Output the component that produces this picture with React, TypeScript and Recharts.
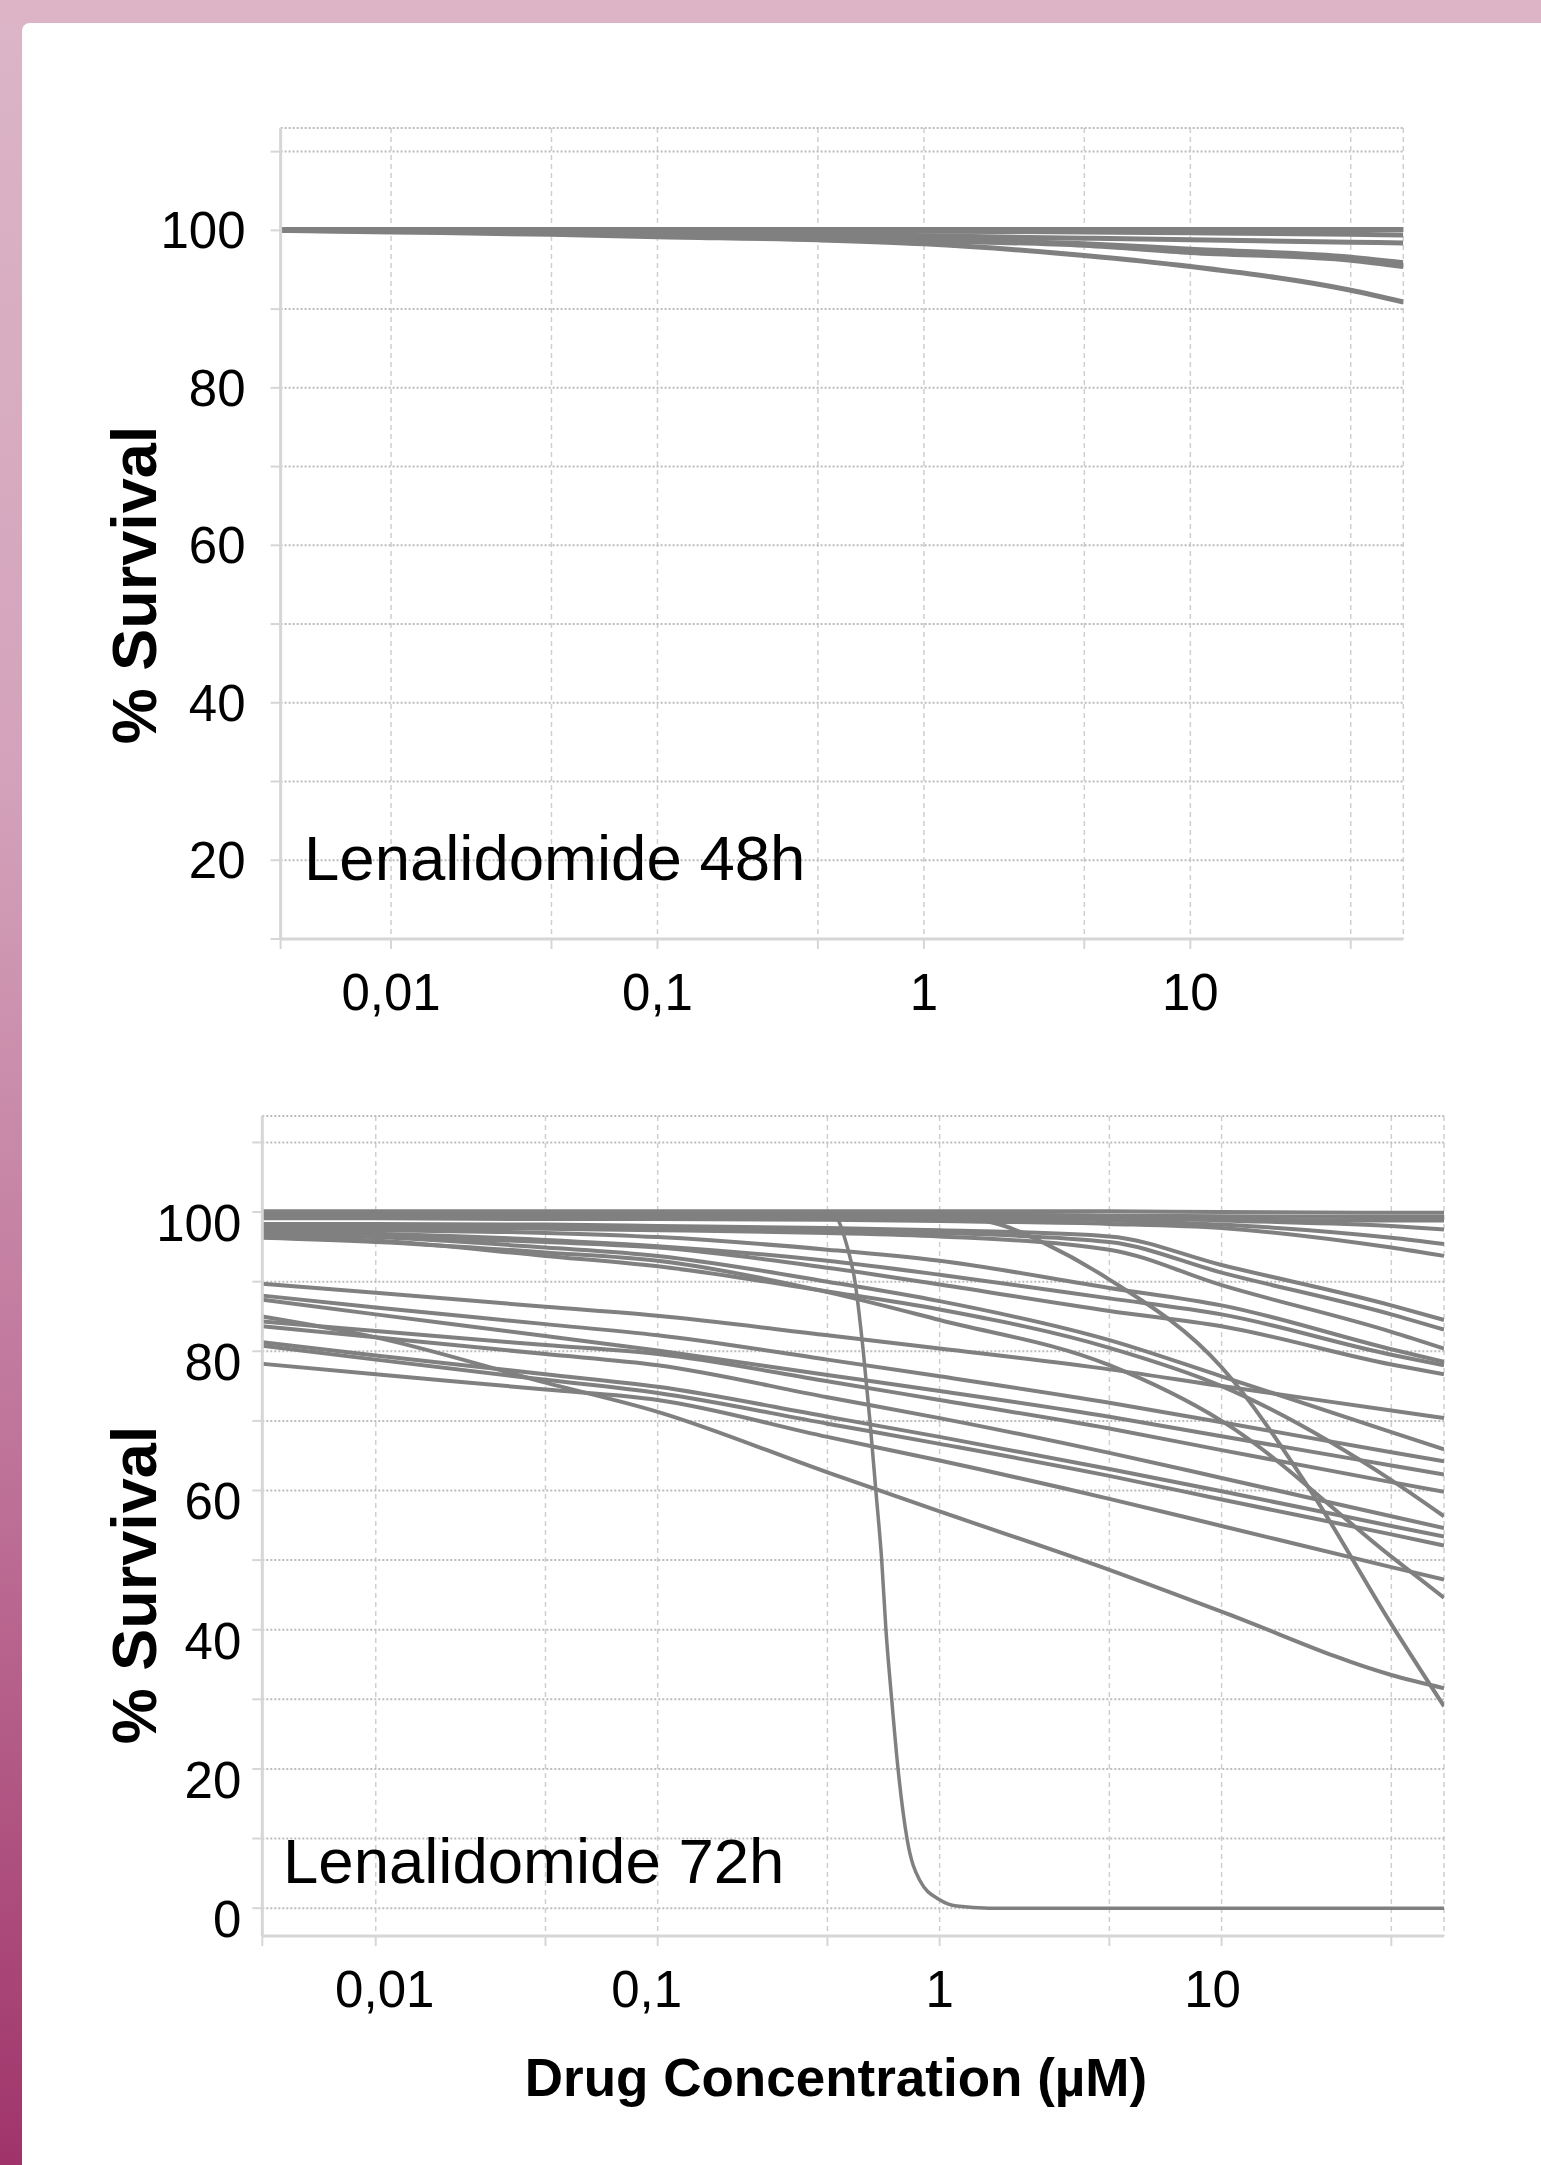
import React from 'react';
import { LineChart, Line, XAxis, YAxis, CartesianGrid } from 'recharts';

// ---------- 48h panel data ----------
const CONC_48 = [0.00385, 0.01, 0.04, 0.1, 0.4, 1, 4, 10, 40, 63];
const SURV_48_1 = [100.1, 100.1, 100.1, 100.1, 100.1, 100.1, 100.1, 100.1, 100.1, 100.1];
const SURV_48_2 = [100, 100, 100, 100, 100, 99.9, 99.8, 99.7, 99.5, 99.4];
const SURV_48_3 = [100, 100, 99.9, 99.8, 99.6, 99.3, 99.0, 98.8, 98.5, 98.4];
const SURV_48_4 = [100, 100, 99.9, 99.7, 99.3, 98.9, 98.3, 97.6, 96.6, 95.9];
const SURV_48_5 = [100, 99.9, 99.7, 99.5, 99.1, 98.7, 98.1, 97.2, 96.2, 95.4];
const SURV_48_6 = [100, 99.8, 99.5, 99.2, 98.8, 98.3, 96.8, 95.4, 92.4, 90.9];

// ---------- 72h panel data ----------
const CONC_72 = [0.00396, 0.01, 0.04, 0.1, 0.4, 1, 4, 10, 40, 61.5];
// near-100% curves
const SURV_72_B1 = [100.1, 100.1, 100.1, 100.1, 100.1, 100.1, 100.1, 100.0, 99.9, 99.9];
const SURV_72_B2 = [99.7, 99.7, 99.7, 99.7, 99.6, 99.6, 99.5, 99.4, 99.3, 99.3];
const SURV_72_B3 = [99.3, 99.3, 99.3, 99.2, 99.2, 99.1, 99.0, 98.9, 98.8, 98.8];
const SURV_72_B4 = [99.9, 99.9, 99.9, 99.9, 99.8, 99.7, 99.4, 98.8, 98.0, 97.5];
const SURV_72_B5 = [99.6, 99.6, 99.6, 99.5, 99.4, 99.2, 98.8, 98.2, 96.3, 95.4];
const SURV_72_B6 = [99.1, 99.1, 99.0, 99.0, 98.9, 98.7, 98.3, 97.7, 94.9, 93.7];
// sigmoid curves starting near 97-98 %
const SURV_72_S1 = [98.3, 98.3, 98.2, 98.0, 97.7, 97.4, 96.5, 92.4, 86.6, 84.5];
const SURV_72_S2 = [98.0, 98.0, 97.9, 97.7, 97.3, 97.0, 95.7, 91.3, 85.3, 83.1];
const SURV_72_S3 = [97.8, 97.8, 97.6, 97.4, 97.0, 96.5, 94.6, 89.5, 82.8, 80.4];
const SURV_72_S4 = [97.5, 97.4, 97.0, 96.4, 94.6, 93.0, 89.1, 86.6, 80.3, 78.5];
const SURV_72_S5 = [97.2, 96.9, 96.0, 95.1, 93.0, 91.0, 87.6, 85.3, 79.5, 78.0];
const SURV_72_S6 = [97.0, 96.6, 95.7, 94.9, 92.0, 89.6, 85.8, 83.6, 78.1, 76.7];
const SURV_72_S7 = [96.8, 96.4, 94.9, 93.7, 90.0, 87.2, 81.6, 76.4, 68.4, 65.9];
const SURV_72_S8 = [96.5, 95.9, 93.7, 92.2, 88.6, 86.0, 80.5, 75.0, 61.5, 56.3];
const SURV_72_S9 = [96.3, 95.7, 94.2, 93.0, 88.5, 84.5, 78.0, 70.0, 50.5, 44.6];
// shallow curves starting at 78-90 %
const SURV_72_L1 = [89.7, 88.4, 86.4, 85.1, 82.3, 80.4, 77.4, 75.0, 71.5, 70.4];
const SURV_72_L2 = [88.0, 86.3, 83.9, 82.3, 78.8, 76.4, 72.6, 69.8, 65.5, 64.2];
const SURV_72_L3 = [87.4, 85.3, 82.2, 80.1, 76.6, 74.3, 70.6, 67.8, 63.6, 62.3];
const SURV_72_L4 = [85.0, 82.0, 75.5, 71.3, 62.6, 57.0, 48.6, 42.6, 33.5, 31.6];
const SURV_72_L5 = [84.3, 82.9, 80.9, 79.6, 75.7, 73.0, 68.9, 65.8, 61.2, 59.8];
const SURV_72_L6 = [83.6, 82.0, 79.6, 78.0, 73.4, 70.4, 65.4, 61.8, 56.3, 54.6];
const SURV_72_L7 = [81.3, 79.4, 76.7, 74.9, 70.6, 67.7, 63.1, 59.9, 54.9, 53.4];
const SURV_72_L8 = [80.8, 78.8, 75.9, 74.0, 69.6, 66.7, 62.1, 58.7, 53.7, 52.1];
const SURV_72_L9 = [78.2, 76.7, 74.5, 73.0, 67.7, 64.3, 58.8, 54.9, 49.0, 47.2];
// curve that breaks away from 100 % near 2 µM
const CONC_72_LATE = [0.00396, 0.4, 1, 1.7, 2.36, 4, 10, 20.9, 40, 61.5];
const SURV_72_LATE = [100, 100, 99.5, 98.0, 95.5, 90.3, 77.7, 59.7, 40.8, 29.0];
// very steep curve around 0.6 µM
const CONC_72_STEEP = [0.00396, 0.1, 0.3, 0.425, 0.468, 0.501, 0.536, 0.566, 0.594, 0.623, 0.645, 0.676, 0.712, 0.766, 0.85, 1.0, 1.15, 1.5, 61.5];
const SURV_72_STEEP = [99.8, 99.8, 99.7, 99.3, 95.3, 90, 80, 70, 60, 50, 40, 30, 20, 10, 4, 1.2, 0.3, 0, 0];

// ---------- axis ticks ----------
const X_TICKS_48 = [0.00385, 0.01, 0.04, 0.1, 0.4, 1, 4, 10, 40];
const X_TICKS_72 = [0.00396, 0.01, 0.04, 0.1, 0.4, 1, 4, 10, 40];
const X_LABELS: Record<string, string> = { '0.01': '0,01', '0.1': '0,1', '1': '1', '10': '10' };
const X_LABEL_SHIFT_72: Record<string, number> = { '0.01': 9, '0.1': -11, '1': 0, '10': -9 };
const Y_TICKS_48 = [10, 20, 30, 40, 50, 60, 70, 80, 90, 100, 110];
const Y_TICKS_72 = [0, 10, 20, 30, 40, 50, 60, 70, 80, 90, 100, 110];
const Y_LABELS = [0, 20, 40, 60, 80, 100];

const SERIES_48 = [SURV_48_1, SURV_48_2, SURV_48_3, SURV_48_4, SURV_48_5, SURV_48_6];
const SERIES_72 = [
  SURV_72_B1, SURV_72_B2, SURV_72_B3, SURV_72_B4, SURV_72_B5, SURV_72_B6,
  SURV_72_S1, SURV_72_S2, SURV_72_S3, SURV_72_S4, SURV_72_S5, SURV_72_S6, SURV_72_S7, SURV_72_S8, SURV_72_S9,
  SURV_72_L1, SURV_72_L2, SURV_72_L3, SURV_72_L4, SURV_72_L5, SURV_72_L6, SURV_72_L7, SURV_72_L8, SURV_72_L9,
];

const toPoints = (xs: number[], ys: number[]) => xs.map((x, i) => ({ x, y: ys[i] }));

const FONT = '"Liberation Sans", Arial, Helvetica, sans-serif';
const LINE = '#808080';
const AXIS = '#d6d6d6';

const makeXTick = (offset: number, shifts?: Record<string, number>) => (props: any) => {
  const { x, y, payload } = props;
  const key = String(payload.value);
  const label = X_LABELS[key];
  if (!label) return <g />;
  const dx = shifts ? shifts[key] || 0 : 0;
  return (
    <text x={x + dx} y={y + offset} textAnchor="middle" fontSize={51} fontFamily={FONT} fill="#000">
      {label}
    </text>
  );
};

const makeYTick = (dx: number, dy: number) => (props: any) => {
  const { x, y, payload } = props;
  if (!Y_LABELS.includes(payload.value)) return <g />;
  return (
    <text x={x + dx} y={y + dy} textAnchor="end" fontSize={51} fontFamily={FONT} fill="#000">
      {payload.value}
    </text>
  );
};

function Panel(props: {
  top: number; height: number; plotLeft: number; plotTop: number; plotRight: number; plotBottom: number;
  xDomain: [number, number]; yDomain: [number, number]; xTicks: number[]; yTicks: number[];
  series: { x: number; y: number }[][]; strokeWidths: number[]; yTickDx: number; yTickDy: number;
  xShifts?: Record<string, number>;
}) {
  const { top, height, plotLeft, plotTop, plotRight, plotBottom } = props;
  const xAxisH = 90;
  const margin = {
    top: plotTop - top,
    right: 1541 - plotRight,
    left: 0,
    bottom: top + height - plotBottom - xAxisH,
  };
  return (
    <div style={{ position: 'absolute', left: 0, top, width: 1541, height }}>
      <LineChart width={1541} height={height} margin={margin}>
        <CartesianGrid horizontal={false} vertical={true} stroke="#cfcfcf" strokeWidth={1.5} strokeDasharray="5 4" />
        <CartesianGrid horizontal={true} vertical={false} stroke="#bcbcbc" strokeWidth={2} strokeDasharray="2 2" />
        <XAxis
          type="number" dataKey="x" scale="log" domain={props.xDomain} allowDataOverflow
          ticks={props.xTicks} interval={0} height={xAxisH}
          axisLine={{ stroke: AXIS, strokeWidth: 3 }} tickLine={{ stroke: AXIS, strokeWidth: 2 }}
          tickSize={10} tickMargin={0} tick={makeXTick(61, props.xShifts)}
        />
        <YAxis
          type="number" dataKey="y" domain={props.yDomain} allowDataOverflow
          ticks={props.yTicks} interval={0} width={plotLeft}
          axisLine={{ stroke: AXIS, strokeWidth: 3 }} tickLine={{ stroke: AXIS, strokeWidth: 2 }}
          tickSize={10} tickMargin={0} tick={makeYTick(props.yTickDx, props.yTickDy)}
        />
        {props.series.map((d, i) => (
          <Line key={i} data={d} dataKey="y" type="monotone" stroke={LINE}
            strokeWidth={props.strokeWidths[i]} dot={false} activeDot={false} isAnimationActive={false} />
        ))}
      </LineChart>
    </div>
  );
}

export default function App() {
  const s48 = SERIES_48.map((ys) => toPoints(CONC_48, ys));
  const s72 = [
    ...SERIES_72.map((ys) => toPoints(CONC_72, ys)),
    toPoints(CONC_72_LATE, SURV_72_LATE),
    toPoints(CONC_72_STEEP, SURV_72_STEEP),
  ];
  const w72 = [...SERIES_72.map(() => 4), 4, 3.5];
  return (
    <div style={{
      position: 'absolute', left: 0, top: 0, width: 1541, height: 2165, overflow: 'hidden',
      background: 'linear-gradient(180deg, #dcb5c7 0%, #d4a3bb 35%, #bd6f96 70%, #a0346a 100%)',
    }}>
      <div style={{ position: 'absolute', left: 0, top: 0, width: 1541, height: 23, background: '#dcb4c6' }} />
      <div style={{ position: 'absolute', left: 22, top: 23, right: 0, bottom: 0, background: '#ffffff', borderTopLeftRadius: 8 }} />

      <Panel top={0} height={1060} plotLeft={280.6} plotTop={128} plotRight={1403.3} plotBottom={939}
        xDomain={[0.00385, 63]} yDomain={[10, 113]} xTicks={X_TICKS_48} yTicks={Y_TICKS_48}
        series={s48} strokeWidths={s48.map(() => 5)} yTickDx={-25} yTickDy={18} />

      <Panel top={1060} height={1000} plotLeft={262.3} plotTop={1116} plotRight={1444} plotBottom={1936}
        xDomain={[0.00396, 61.5]} yDomain={[-4, 113.8]} xTicks={X_TICKS_72} yTicks={Y_TICKS_72}
        series={s72} strokeWidths={w72} yTickDx={-11} yTickDy={29} xShifts={X_LABEL_SHIFT_72} />

      <svg width={1541} height={2165} style={{ position: 'absolute', left: 0, top: 0, pointerEvents: 'none' }}>
        <text x={304} y={880} fontSize={63.5} fontFamily={FONT} fill="#000">Lenalidomide 48h</text>
        <text x={283} y={1883} fontSize={63.5} fontFamily={FONT} fill="#000">Lenalidomide 72h</text>
        <text transform="translate(156,585) rotate(-90)" textAnchor="middle" fontSize={63} fontWeight="bold" fontFamily={FONT} fill="#000">% Survival</text>
        <text transform="translate(156,1585) rotate(-90)" textAnchor="middle" fontSize={63} fontWeight="bold" fontFamily={FONT} fill="#000">% Survival</text>
        <text x={836} y={2096} textAnchor="middle" fontSize={53} fontWeight="bold" fontFamily={FONT} fill="#000">Drug Concentration (µM)</text>
      </svg>
    </div>
  );
}
